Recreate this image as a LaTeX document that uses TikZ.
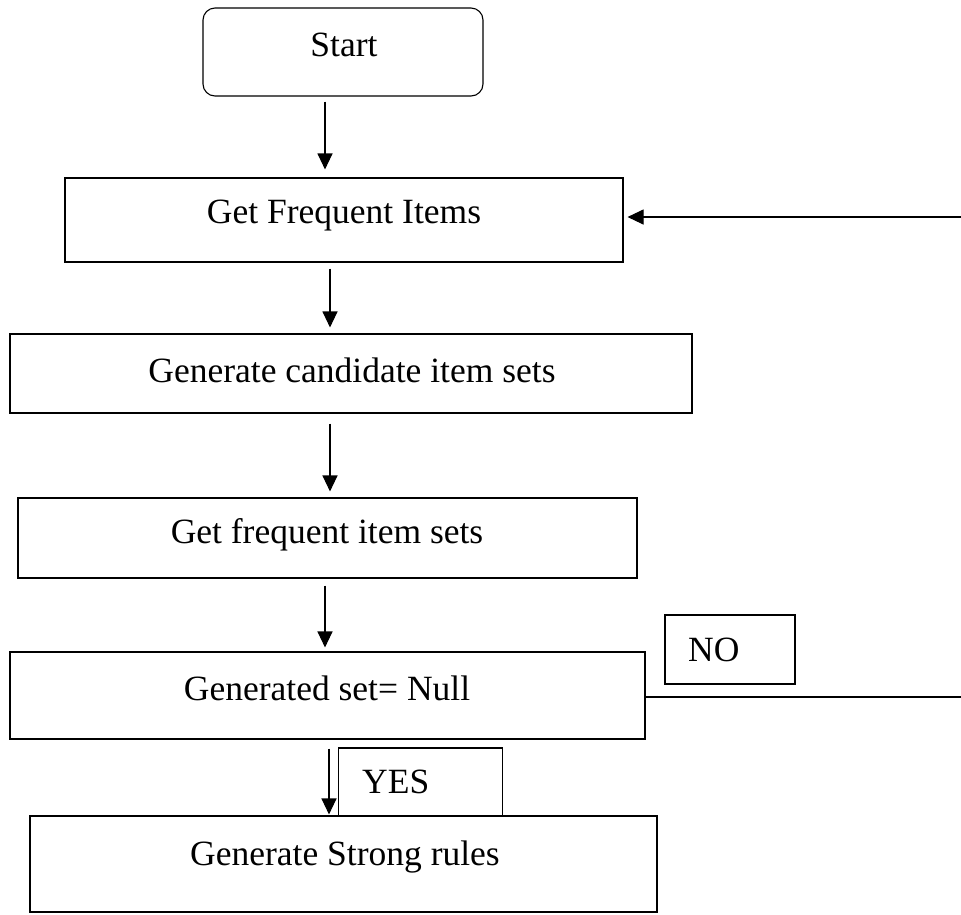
\documentclass[tikz,border=0pt]{standalone}
\usepackage{fontspec}
\setmainfont{Liberation Serif}
\usetikzlibrary{arrows.meta}
\begin{document}
\begin{tikzpicture}[x=1pt,y=-1pt,
  box/.style={draw, line width=1.1pt, inner sep=0pt},
  txt/.style={inner sep=0pt, font=\fontsize{35.5}{42}\selectfont},
  arr/.style={line width=1.1pt, -{Triangle[length=16pt,width=15pt]}},
  conn/.style={line width=1.1pt}]
\useasboundingbox (0,0) rectangle (961,914);
% boxes
\node[box, rounded corners=12pt, minimum width=280pt, minimum height=88pt] (start) at (343,52) {};
\node[box, minimum width=558pt, minimum height=84pt] (gfi) at (344,220) {};
\node[box, minimum width=682pt, minimum height=79pt] (gcis) at (351,373.5) {};
\node[box, minimum width=619pt, minimum height=80pt] (gfis) at (327.5,538) {};
\node[box, minimum width=635pt, minimum height=87pt] (gsn) at (327.5,695.5) {};
\node[box, minimum width=130pt, minimum height=69pt] (no) at (730,649.5) {};
\node[box, minimum width=164pt, minimum height=68pt] (yes) at (420.5,782) {};
\node[box, minimum width=627pt, minimum height=96pt] (gsr) at (343.5,864) {};
% texts
\node[txt] (startt) at (344,45) {Start};
\node[txt] (gfit) at (344,216) {Get Frequent Items};
\node[txt] (gcist) at (352,370) {Generate candidate item sets};
\node[txt] (gfist) at (327,535) {Get frequent item sets};
\node[txt] (gsnt) at (327,688) {Generated set= Null};
\node[txt, anchor=west] (not) at (688,650) {NO};
\node[txt, anchor=west] (yest) at (362,782) {YES};
\node[txt] (gsrt) at (345,857) {Generate Strong rules};
% arrow end points
\coordinate (a1) at ([shift={(-18,5)}]start.south);
\coordinate (b1) at ([yshift=8pt]gfi.north);
\coordinate (a2) at ([shift={(-14,6)}]gfi.south);
\coordinate (b2) at ([yshift=6pt]gcis.north);
\coordinate (a3) at ([shift={(-21,10)}]gcis.south);
\coordinate (b3) at ([yshift=6pt]gfis.north);
\coordinate (a4) at ([shift={(-2.5,7)}]gfis.south);
\coordinate (b4) at ([yshift=4pt]gsn.north);
\coordinate (a5) at ([shift={(1.5,9)}]gsn.south);
\coordinate (b5) at ([yshift=1pt]gsr.north);
\draw[arr] (a1) -- (a1 |- b1);
\draw[arr] (a2) -- (a2 |- b2);
\draw[arr] (a3) -- (a3 |- b3);
\draw[arr] (a4) -- (a4 |- b4);
\draw[arr] (a5) -- (a5 |- b5);
% loop
\coordinate (r1) at (961,697);
\coordinate (r2) at (961,217);
\draw[conn] (gsn.east |- r1) -- (r1);
\draw[arr] (r2) -- ([xshift=4pt]gfi.east |- r2);
\end{tikzpicture}
\end{document}
